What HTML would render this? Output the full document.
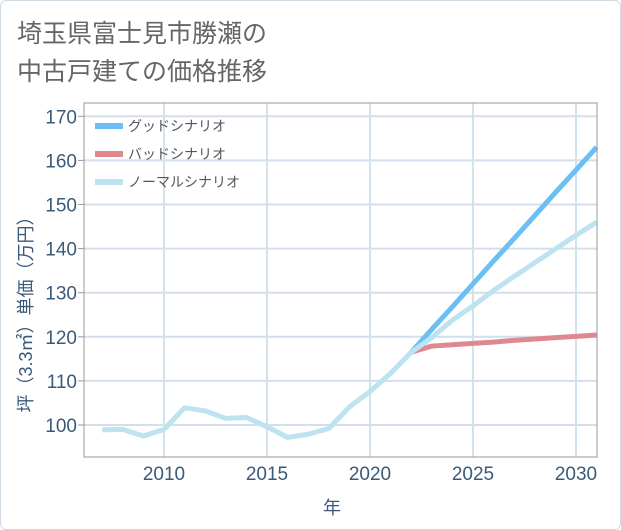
<!DOCTYPE html>
<html><head><meta charset="utf-8"><style>
body{margin:0;background:#fff;}
svg{display:block;font-family:"Liberation Sans","Noto Sans CJK JP",sans-serif;}
</style></head><body>
<svg id="c" width="621" height="530">
<rect x="0.5" y="0.5" width="620" height="529" rx="6" fill="#fff" stroke="#d0dae4"/>
<text x="17" y="42" font-size="25" fill="#666">埼玉県富士見市勝瀬の</text>
<text x="17" y="80" font-size="25" fill="#666">中古戸建ての価格推移</text>
<g id="grid"></g>
<g id="series"></g>
<rect x="84" y="103" width="513" height="354" fill="none" stroke="#999"/>
<g id="axes"></g>
<text transform="translate(32,310) rotate(-90)" text-anchor="middle" font-size="18" fill="#3a5a7a">坪（3.3㎡）単価（万円）</text>
<text x="332" y="514" text-anchor="middle" font-size="18" fill="#3a5a7a">年</text>
<g>
<line x1="95" y1="126" x2="123" y2="126" stroke="#6bbff5" stroke-width="6"/>
<text x="128" y="131" font-size="14" fill="#555">グッドシナリオ</text>
<line x1="95" y1="154" x2="123" y2="154" stroke="#e08890" stroke-width="6"/>
<text x="128" y="159" font-size="14" fill="#555">バッドシナリオ</text>
<line x1="95" y1="182" x2="123" y2="182" stroke="#bde2f0" stroke-width="6"/>
<text x="128" y="187" font-size="14" fill="#555">ノーマルシナリオ</text>
</g>
</svg>
<script>
const histYears=[2007,2008,2009,2010,2011,2012,2013,2014,2015,2016,2017,2018,2019,2020,2021,2022];
const histValues=[98.9,99,97.5,99,103.9,103.2,101.5,101.7,99.6,97.2,97.9,99.2,104.1,107.6,111.7,116.5];
const futYears=[2022,2023,2024,2025,2026,2027,2028,2029,2030,2031];
const goodValues=[116.5,121.7,126.8,132,137.2,142.3,147.5,152.7,157.8,163];
const badValues=[116.5,117.9,118.2,118.5,118.8,119.2,119.5,119.8,120.1,120.4];
const normalValues=[116.5,119.8,123.8,127,130.5,133.7,136.8,139.9,143,146];
const yTicks=[100,110,120,130,140,150,160,170];
const xTicks=[2010,2015,2020,2025,2030];
const X=y=>164+(y-2010)*20.6;
const Y=v=>425-(v-100)*4.41;
const NS='http://www.w3.org/2000/svg';
function mk(t,a,p){const e=document.createElementNS(NS,t);for(const k in a)e.setAttribute(k,a[k]);p.appendChild(e);return e;}
const grid=document.getElementById('grid'),axes=document.getElementById('axes'),ser=document.getElementById('series');
yTicks.forEach(v=>{
 const l=mk('line',{x1:84,x2:597,y1:Y(v),y2:Y(v),stroke:'#d3dfea','stroke-width':2},grid);
 
 
 const tk=mk('line',{x1:78,x2:84,y1:Y(v),y2:Y(v),stroke:'#999'},axes);
 
 
 const t=mk('text',{x:77,y:Y(v)+7,'text-anchor':'end','font-size':19,fill:'#3a5a7a'},axes);
 t.textContent=v;
 
 
});
xTicks.forEach(v=>{
 const l=mk('line',{x1:X(v),x2:X(v),y1:103,y2:457,stroke:'#d3e3ee','stroke-width':2},grid);
 
 
 const t=mk('text',{x:X(v),y:480,'text-anchor':'middle','font-size':19,fill:'#3a5a7a'},axes);
 t.textContent=v;
 
 
});
function line(xs,vs,col,name){
 const p=mk('polyline',{points:xs.map((x,i)=>X(x)+','+Y(vs[i])).join(' '),fill:'none',stroke:col,'stroke-width':5,'stroke-linejoin':'round'},ser);
 
 
}
line(futYears,badValues,'#e08890','bad-scenario-line');
line(futYears,goodValues,'#6bbff5','good-scenario-line');
line(futYears,normalValues,'#bde2f0','normal-scenario-line');
line(histYears,histValues,'#bde2f0','historical-line');
</script>
</body></html>
